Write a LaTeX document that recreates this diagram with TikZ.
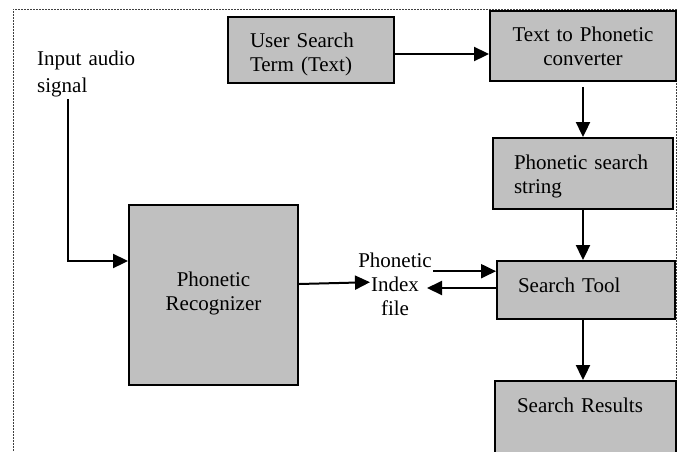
\documentclass[tikz,border=0pt]{standalone}
\usepackage{fontspec}
\setmainfont{Liberation Serif}
\usetikzlibrary{arrows.meta}
\definecolor{boxgray}{HTML}{C0C0C0}
\begin{document}
\begin{tikzpicture}[x=1pt,y=-1pt,
  every node/.style={font=\fontsize{21}{24}\selectfont},
  boxst/.style={draw, line width=1.9pt, fill=boxgray, inner sep=0pt, text height=15pt},
  txt/.style={inner sep=0pt, text height=15pt},
  arr/.style={line width=2pt, -{Triangle[length=15pt,width=14pt]}},
  frame/.style={draw=black!75, line width=1pt, dash pattern=on 2pt off 1pt}]
\useasboundingbox (0,0) rectangle (677,451);
\draw[frame] (13,475) -- (13,9) -- (676,9) -- (676,475);

\node[boxst, minimum width=166pt, minimum height=66pt, text width=122pt, align=left, text depth=21pt]
  (user) at (311,50) {User Search\\Term (Text)};
\node[boxst, minimum width=186pt, minimum height=70pt, text width=180pt, align=center, text depth=25pt]
  (conv) at (583,46) {Text to Phonetic\\converter};
\node[boxst, minimum width=180pt, minimum height=71pt, text width=138pt, align=left, text depth=24pt]
  (pss) at (583,173.5) {Phonetic search\\string};
\node[boxst, minimum width=178pt, minimum height=58pt, text width=136pt, align=left, text depth=11pt]
  (tool) at (586,290) {Search Tool};
\node[boxst, minimum width=181pt, minimum height=84pt, text width=137pt, align=left, text depth=37pt]
  (res) at (585.5,423) {Search Results};
\node[boxst, minimum width=169pt, minimum height=180pt, text width=160pt, align=center, text depth=33pt]
  (rec) at (213.5,295) {Phonetic\\Recognizer};
\node[txt, anchor=north, text width=80pt, align=center, text depth=45pt]
  (idx) at (395,252) {Phonetic\\Index\\file};
\node[txt, anchor=north west, text width=110pt, align=left, font=\fontsize{21}{27}\selectfont]
  (sig) at (37,50) {Input audio\\signal};

\coordinate (u1) at ([yshift=-4pt]user.east);
\draw[arr] (u1) -- (u1 -| conv.west);
\draw[arr, shorten <=5pt] (conv.south) -- (conv.south |- pss.north);
\draw[arr] (pss.south) -- (pss.south |- tool.north);
\draw[arr] (tool.south -| pss.south) -- (res.north -| pss.south);

\coordinate (in1) at (68,99);
\draw[arr] (in1) |- ([yshift=34pt]rec.west);

\draw[arr] ([yshift=11pt]rec.east) -- ([xshift=-25pt]idx.center);
\coordinate (i2) at ([xshift=38pt,yshift=11pt]idx.center);
\draw[arr] (i2) -- (i2 -| tool.west);
\coordinate (t2) at ([yshift=2pt]tool.west);
\coordinate (i3) at ([xshift=32pt]idx.center);
\draw[arr] (t2) -- (t2 -| i3);
\end{tikzpicture}
\end{document}
